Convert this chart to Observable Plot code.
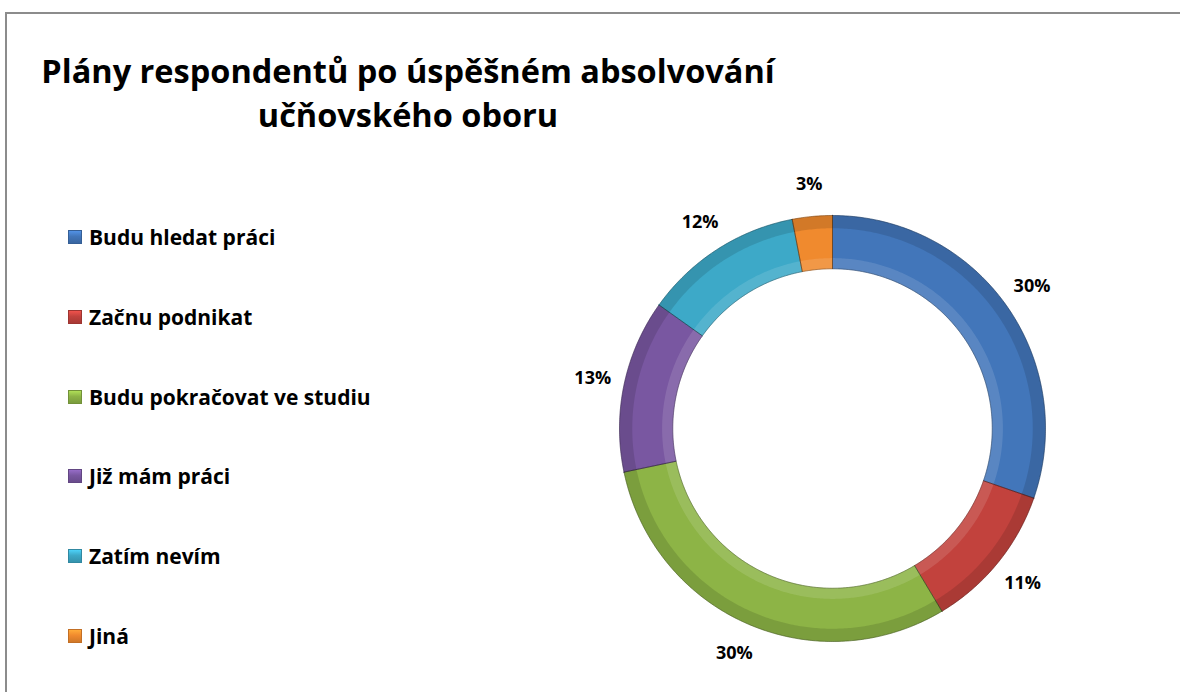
<!DOCTYPE html>
<html>
<head>
<meta charset="utf-8">
<script src="https://cdn.jsdelivr.net/npm/d3@7"></script>
<script src="https://cdn.jsdelivr.net/npm/@observablehq/plot@0.6"></script>
<style>
  html, body { margin: 0; padding: 0; background: #fff; }
  #page { position: relative; width: 1180px; height: 692px; overflow: hidden; font-family: "Open Sans", Lato, sans-serif; }
  #frame { position: absolute; left: 5px; top: 12px; width: 1200px; height: 700px; border-left: 2px solid #8c8c8c; border-top: 2px solid #8c8c8c; box-sizing: border-box; }
  .title { position: absolute; left: 408px; transform: translateX(-50%); font-weight: 700; font-size: 32.5px; color: #000; white-space: nowrap; line-height: 1; }
  #legend { position: absolute; left: 68px; top: 0; }
  .li { position: absolute; left: 0; display: flex; align-items: center; white-space: nowrap; font-weight: 700; font-size: 21px; color: #000; }
  .sw { width: 14px; height: 14px; margin-right: 7px; box-sizing: border-box; }
  #chart { position: absolute; left: 532px; top: 128px; }
</style>
</head>
<body>
<div id="page">
  <div id="frame"></div>
  <div class="title" style="top:55px;">Plány respondentů po úspěšném absolvování</div>
  <div class="title" style="top:99px;">učňovského oboru</div>
  <div id="legend"></div>
  <div id="chart"></div>
</div>
<script>
// ---- data ----
const categories = ["Budu hledat práci", "Začnu podnikat", "Budu pokračovat ve studiu", "Již mám práci", "Zatím nevím", "Jiná"];
const values = [30, 11, 30, 13, 12, 3];
const labels = ["30%", "11%", "30%", "13%", "12%", "3%"];
const colors = ["#4276BA", "#C2423D", "#8DB446", "#7957A1", "#3DA9C8", "#F08A2E"];

// ---- legend (HTML) ----
const legendTop = 237, legendStep = 79.8;
const legend = document.getElementById("legend");
categories.forEach((c, i) => {
  const row = document.createElement("div");
  row.className = "li";
  row.style.top = (legendTop + i * legendStep - 14) + "px";
  row.style.height = "28px";
  const sw = document.createElement("div");
  sw.className = "sw";
  const col = d3.color(colors[i]);
  sw.style.background = `linear-gradient(${col.brighter(0.6)}, ${colors[i]} 45%, ${col.darker(0.4)})`;
  sw.style.border = `1px solid ${col.darker(0.6)}`;
  const tx = document.createElement("span");
  tx.textContent = c;
  row.appendChild(sw); row.appendChild(tx);
  legend.appendChild(row);
});

// ---- donut geometry from d3.pie ----
const pie = d3.pie().sort(null).value(d => d.value).startAngle(0).endAngle(2 * Math.PI);
const rows = categories.map((c, i) => ({category: c, value: values[i], label: labels[i]}));
const arcs = pie(rows);
const inner = 0.75, outer = 1;

function ring(a0, a1, r0, r1) {
  const n = Math.max(4, Math.ceil((a1 - a0) / 0.01));
  const pts = [];
  for (let k = 0; k <= n; k++) { const a = a0 + (a1 - a0) * k / n; pts.push([r1 * Math.sin(a), r1 * Math.cos(a)]); }
  for (let k = n; k >= 0; k--) { const a = a0 + (a1 - a0) * k / n; pts.push([r0 * Math.sin(a), r0 * Math.cos(a)]); }
  pts.push(pts[0]);
  return pts;
}

const slices = [], hiBands = [], loBands = [];
arcs.forEach(a => {
  ring(a.startAngle, a.endAngle, inner, outer).forEach(([x, y]) => slices.push({x, y, category: a.data.category}));
  ring(a.startAngle, a.endAngle, inner, inner + 0.05).forEach(([x, y]) => hiBands.push({x, y, category: a.data.category}));
  ring(a.startAngle, a.endAngle, outer - 0.06, outer).forEach(([x, y]) => loBands.push({x, y, category: a.data.category}));
});

const labelR = 1.15;
const labelPts = arcs.map(a => {
  const m = (a.startAngle + a.endAngle) / 2;
  return {x: labelR * Math.sin(m), y: labelR * Math.cos(m), label: a.data.label};
});

const size = 600, R = 213, W = (size / 2) / R;
const chart = Plot.plot({
  width: size, height: size,
  margin: 0,
  x: {domain: [-W, W], axis: null},
  y: {domain: [-W, W], axis: null},
  color: {domain: categories, range: colors},
  marks: [
    Plot.line(slices, {x: "x", y: "y", z: "category", fill: "category", stroke: "category", strokeWidth: 0.5, curve: "linear-closed"}),
    Plot.line(loBands, {x: "x", y: "y", z: "category", fill: "black", fillOpacity: 0.12, stroke: "none", curve: "linear-closed"}),
    Plot.line(hiBands, {x: "x", y: "y", z: "category", fill: "white", fillOpacity: 0.12, stroke: "none", curve: "linear-closed"}),
    Plot.line(slices, {x: "x", y: "y", z: "category", fill: "none", stroke: "#000", strokeOpacity: 0.35, strokeWidth: 0.8, curve: "linear-closed"}),
    Plot.text(labelPts, {x: "x", y: "y", text: "label", fontSize: 18, fontWeight: 700, fill: "#000", fontFamily: "'Open Sans', Lato, sans-serif"})
  ]
});
document.getElementById("chart").appendChild(chart);
</script>
</body>
</html>
